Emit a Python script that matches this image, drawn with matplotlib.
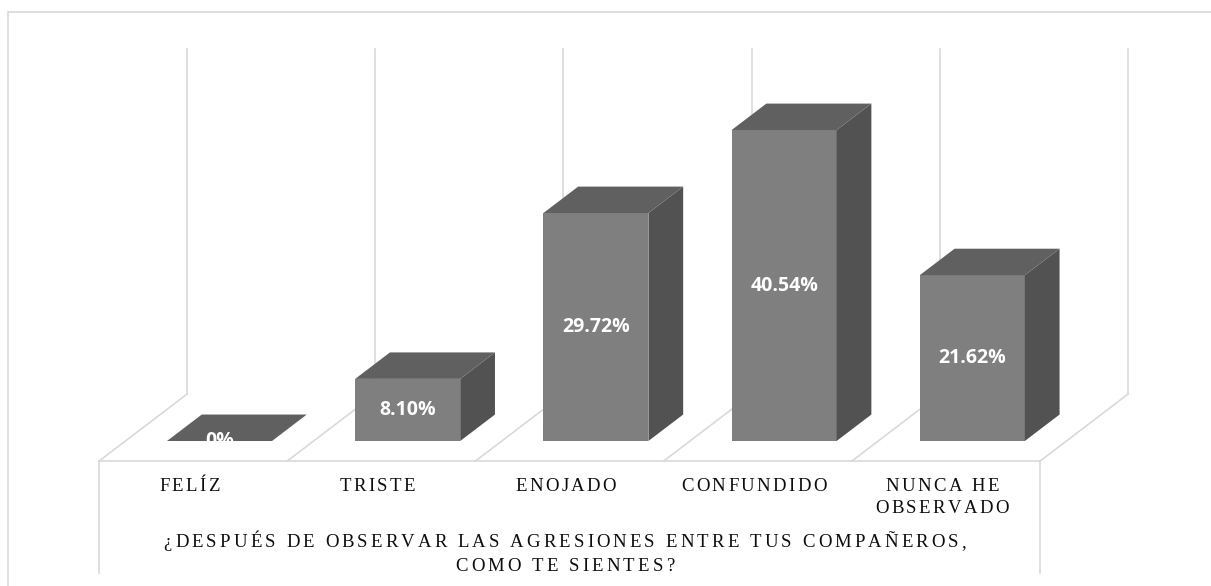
import matplotlib.pyplot as plt
from matplotlib.patches import Polygon, Rectangle
from matplotlib.font_manager import FontProperties
from matplotlib.transforms import offset_copy

# data
categories = ['FELÍZ', 'TRISTE', 'ENOJADO', 'CONFUNDIDO', 'NUNCA HE\nOBSERVADO']
values = [0.0, 8.10, 29.72, 40.54, 21.62]
labels = ['0%', '8.10%', '29.72%', '40.54%', '21.62%']
axis_title = '¿DESPUÉS DE OBSERVAR LAS AGRESIONES ENTRE TUS COMPAÑEROS,\nCOMO TE SIENTES?'
y_max = 45

# look
front_c = '#7f7f7f'
side_c = '#525252'
top_c = '#606060'
grid_c = '#d9d9d9'
text_c = '#0d0d0d'

# pseudo 3d geometry (data units: x = category, y = percent)
depth_x, depth_y = 0.4676, 8.735   # full floor depth
f0 = 0.30                          # where bar front sits inside the floor depth
bd = 0.395                         # bar depth as a share of floor depth
bar_w = 0.558

fig = plt.figure(figsize=(12.11, 5.86), dpi=100)
ax = fig.add_axes([0, 0, 1, 1])
ax.set_xlim(-1.1663, 5.2683)
ax.set_ylim(-18.905, 57.497)
ax.axis('off')
renderer = fig.canvas.get_renderer()
serif = FontProperties(family='Liberation Serif', size=13.5)

def tracked(x, y, s, track=2.4, lead=22):
    # centred text with extra letter spacing (pixels), one char at a time
    for k, line in enumerate(s.split('\n')):
        widths = [renderer.get_text_width_height_descent(ch, serif, ismath=False)[0] for ch in line]
        total = sum(widths) + track * (len(line) - 1)
        off = -total / 2
        for ch, w in zip(line, widths):
            tr = offset_copy(ax.transData, fig=fig, x=off, y=-k * lead, units='dots')
            ax.text(x, y, ch, transform=tr, ha='left', va='baseline',
                    fontproperties=serif, color=text_c)
            off += w + track

n = len(categories)
fx0 = -f0 * depth_x            # shift of floor front edge vs bar front
fy0 = -f0 * depth_y
bounds = [i - 0.5 + fx0 for i in range(n + 1)]
back_y = fy0 + depth_y
lw = 1.2

# floor front edge and box below it
ax.plot([bounds[0], bounds[-1]], [fy0, fy0], color=grid_c, lw=lw, zorder=1)
ax.plot([bounds[0], bounds[0]], [fy0, -17.2], color=grid_c, lw=lw, zorder=1)
ax.plot([bounds[-1], bounds[-1]], [fy0, -17.2], color=grid_c, lw=lw, zorder=1)
# floor diagonals and back wall lines
for b in bounds:
    ax.plot([b, b + depth_x], [fy0, back_y], color=grid_c, lw=lw, zorder=1)
    ax.plot([b + depth_x, b + depth_x], [back_y, back_y + y_max], color=grid_c, lw=lw, zorder=1)

# bars
dx, dy = bd * depth_x, bd * depth_y
for i, v in enumerate(values):
    l, r = i - bar_w / 2, i + bar_w / 2
    if v > 0:
        ax.bar(i, v, width=bar_w, color=front_c, linewidth=0, zorder=3)
    ax.add_patch(Polygon([(r, 0), (r + dx, dy), (r + dx, v + dy), (r, v)],
                         closed=True, fc=side_c, ec='none', zorder=3))
    ax.add_patch(Polygon([(l, v), (r, v), (r + dx, v + dy), (l + dx, v + dy)],
                         closed=True, fc=top_c, ec='none', zorder=3))
    t = ax.text(i, v / 2, labels[i], ha='center', va='center', color='white',
                fontsize=14, fontweight='bold', family='Open Sans', zorder=4)
    clip = Rectangle((l - 1, 0), bar_w + 2, 100, transform=ax.transData)
    t.set_clip_path(clip)

# category labels
for i, c in enumerate(categories):
    tracked(i + fx0 - 0.02, -6.5, c, track=2.4, lead=22)

tracked((bounds[0] + bounds[-1]) / 2 - 0.025, -13.8, axis_title, track=3.1, lead=24)

# chart border
fig.add_artist(Rectangle((8 / 1211, -0.5), 2, 1.5 - 12 / 586, transform=fig.transFigure,
                         fill=False, ec=grid_c, lw=1.2))

fig.savefig('out.png', dpi=100)
